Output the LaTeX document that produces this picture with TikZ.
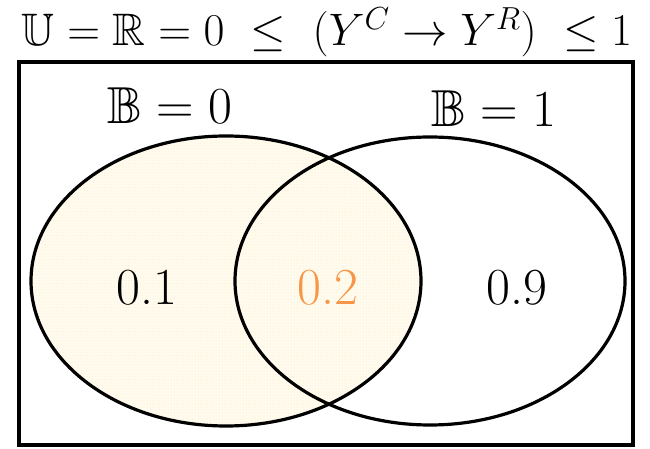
\RequirePackage{fix-cm}
\documentclass[tikz,border=0pt]{standalone}
\usepackage{amssymb}
\usetikzlibrary{patterns}
\definecolor{cream}{RGB}{255,251,240}
\definecolor{dotcol}{RGB}{252,230,165}
\definecolor{pumpkin}{RGB}{247,150,70}

\begin{document}
\begin{tikzpicture}[x=1pt,y=1pt,
  set/.style={line width=3.2pt},
  big/.style={anchor=base,inner sep=0pt,font=\fontsize{52}{60}\selectfont},
  lbl/.style={anchor=base,inner sep=0pt,font=\fontsize{52}{60}\selectfont}]
\useasboundingbox (0,0) rectangle (650,449);
\coordinate (A) at (226,168);
\coordinate (B) at (430,168);
% shaded set B=0
\fill[cream] (A) ellipse (195 and 145);
\fill[pattern=dots,pattern color=dotcol] (A) ellipse (195 and 145);
\draw[set] (19,4) rectangle (633,387);
\draw[set] (A) ellipse (195 and 145);
\draw[set] (B) ellipse (195 and 144);
\node[lbl,font=\fontsize{45.5}{54}\selectfont] (title) at (327,403) {$\mathbb{U}=\mathbb{R}=0\ \le\ (Y^{C}\to Y^{R})\ \le 1$};
\node[lbl] (b0) at (170,325) {$\mathbb{B}=0$};
\node[lbl] (b1) at (494,322) {$\mathbb{B}=1$};
\node[big] (p1) at (147,144) {0.1};
\node[big,text=pumpkin] (p2) at (328,144) {0.2};
\node[big] (p9) at (517,144) {0.9};
\end{tikzpicture}
\end{document}
